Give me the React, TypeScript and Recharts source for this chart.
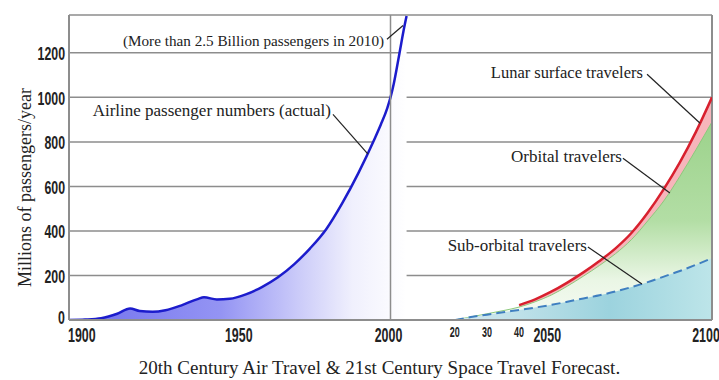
import { Area, CartesianGrid, ComposedChart, Line, ReferenceDot, ReferenceLine, XAxis, YAxis } from "recharts";

// Airline passengers, millions per year (actual)
const airlineYears = [1900, 1905, 1910, 1915, 1919, 1922, 1926, 1930, 1935, 1940, 1942, 1946, 1950, 1955, 1960, 1965, 1970, 1975, 1980, 1985, 1990, 1995, 1997, 1999, 2000, 2001, 2002, 2003, 2004, 2005];
const airlineValues = [0, 2, 8, 28, 52, 40, 37, 44, 66, 94, 102, 92, 95, 115, 148, 192, 250, 322, 408, 525, 660, 812, 878, 952, 1000, 1060, 1135, 1215, 1295, 1365];

// Space travel forecast
const spaceYears = [2020, 2025, 2030, 2035, 2040, 2045, 2050, 2055, 2060, 2065, 2070, 2075, 2080, 2085, 2090, 2095, 2100];
const lunarYears = [2040, 2045, 2050, 2055, 2060, 2065, 2070, 2075, 2080, 2085, 2090, 2095, 2100];
const lunarValues = [67, 93, 127, 168, 214, 265, 322, 392, 482, 588, 708, 845, 1000];
const orbitalValues = [0, 14, 28, 42, 58, 82, 112, 152, 197, 245, 298, 362, 445, 535, 645, 765, 890];
const suborbitalValues = [0, 13, 24, 35, 45, 56, 68, 82, 97, 111, 128, 148, 170, 195, 220, 248, 278];

const yTicks = [0, 200, 400, 600, 800, 1000, 1200];
const xTicks = [1900, 1950, 2000, 2020, 2030, 2040, 2050, 2100];

const notes = [
  { text: "(More than 2.5 Billion passengers in 2010)", year: 1998.0, value: 1256, size: 15.2 },
  { text: "Airline passenger numbers (actual)", year: 1981.5, value: 942, size: 17 },
  { text: "Lunar surface travelers", year: 2078.5, value: 1113, size: 16.5 },
  { text: "Orbital travelers", year: 2072.0, value: 736, size: 17 },
  { text: "Sub-orbital travelers", year: 2061.1, value: 336, size: 17 },
];

const leaders = [
  { from: [1998.9, 1261], to: [2003.9, 1323] },
  { from: [1982.1, 924], to: [1993.0, 745] },
  { from: [2079.8, 1104], to: [2096.3, 884] },
  { from: [2072.3, 727], to: [2086.9, 570] },
  { from: [2061.4, 328], to: [2078.2, 162] },
];

type Row = { year: number; airline?: number; lunar?: number; orbital?: number; suborbital?: number };

function buildRows(): Row[] {
  const rows = new Map<number, Row>();
  const put = (years: number[], values: number[], key: keyof Row) => {
    years.forEach((year, i) => {
      const row = rows.get(year) ?? { year };
      (row as any)[key] = values[i];
      rows.set(year, row);
    });
  };
  put(airlineYears, airlineValues, "airline");
  put(lunarYears, lunarValues, "lunar");
  put(spaceYears, orbitalValues, "orbital");
  put(spaceYears, suborbitalValues, "suborbital");
  return [...rows.values()].sort((a, b) => a.year - b.year);
}

const data = buildRows();

const SERIF = '"Liberation Serif", "DejaVu Serif", serif';
const SANS = '"Liberation Sans", Arial, sans-serif';
const INK = "#222";
const GRID = "#8d8d8d";

// small nudges so the century labels sit like the printed original
const yearLabel: Record<number, { dx: number; anchor: "start" | "middle" | "end" }> = {
  1900: { dx: -1, anchor: "start" },
  1950: { dx: 9, anchor: "middle" },
  2000: { dx: -2, anchor: "middle" },
  2050: { dx: -4, anchor: "middle" },
  2100: { dx: -6, anchor: "middle" },
};

function YearTick({ x, y, payload }: any) {
  const year = payload.value as number;
  const big = yearLabel[year];
  if (big) {
    return (
      <g transform={`translate(${x + big.dx},${y + 22}) scale(0.62,1)`}>
        <text textAnchor={big.anchor} fontFamily={SANS} fontWeight="bold" fontSize={20} fill={INK}>
          {year}
        </text>
      </g>
    );
  }
  return (
    <g transform={`translate(${x},${y + 17}) scale(0.64,1)`}>
      <text textAnchor="middle" fontFamily={SANS} fontWeight="bold" fontSize={14} fill={INK}>
        {year - 2000}
      </text>
    </g>
  );
}

function ValueTick({ x, y, payload }: any) {
  const dy = payload.value === 0 ? 3.5 : 7.5;
  return (
    <g transform={`translate(${x},${y + dy}) scale(0.65,1)`}>
      <text textAnchor="end" fontFamily={SANS} fontWeight="bold" fontSize={19} fill={INK}>
        {payload.value}
      </text>
    </g>
  );
}

function Note({ viewBox, text, size }: any) {
  return (
    <text x={viewBox.x} y={viewBox.y} textAnchor="end" dominantBaseline="central" fontFamily={SERIF} fontSize={size} fill={INK}>
      {text}
    </text>
  );
}

function AxisTitle({ viewBox }: any) {
  const cx = viewBox.x + 25;
  const cy = viewBox.y + viewBox.height / 2 + 20;
  return (
    <text x={cx} y={cy} transform={`rotate(-90, ${cx}, ${cy})`} textAnchor="middle" dominantBaseline="central" fontFamily={SERIF} fontSize={18} fill={INK}>
      Millions of passengers/year
    </text>
  );
}

export default function App() {
  return (
    <div style={{ position: "relative", width: 719, height: 380, background: "#fff" }}>
      <style>{"body{margin:0}"}</style>
      <ComposedChart width={719} height={360} data={data} margin={{ top: 15, right: 7, bottom: 0, left: 0 }}>
        <defs>
          <linearGradient id="airlineFill" x1="0" y1="0" x2="1" y2="0">
            <stop offset="0%" stopColor="#7070ee" />
            <stop offset="45%" stopColor="#9494f3" />
            <stop offset="68%" stopColor="#cbcbf9" />
            <stop offset="84%" stopColor="#f0f0fd" />
            <stop offset="100%" stopColor="#ffffff" />
          </linearGradient>
          <linearGradient id="orbitalFill" x1="0" y1="0" x2="0" y2="1">
            <stop offset="0%" stopColor="#9cd28b" />
            <stop offset="50%" stopColor="#b3dea5" />
            <stop offset="80%" stopColor="#eaf6e5" />
            <stop offset="100%" stopColor="#f6fbf3" />
          </linearGradient>
          <linearGradient id="subFill" x1="0" y1="0" x2="1" y2="0">
            <stop offset="0%" stopColor="#d6eaf0" />
            <stop offset="60%" stopColor="#9cd3de" />
            <stop offset="100%" stopColor="#bde5e9" />
          </linearGradient>
        </defs>
        <CartesianGrid vertical={false} stroke={GRID} strokeWidth={1.5} />
        <XAxis
          dataKey="year"
          type="number"
          domain={[1900, 2100]}
          ticks={xTicks}
          interval={0}
          allowDataOverflow
          height={40}
          tickSize={0}
          tickMargin={0}
          tickLine={false}
          axisLine={{ stroke: GRID, strokeWidth: 2 }}
          tick={<YearTick />}
        />
        <YAxis
          type="number"
          domain={[0, 1370]}
          ticks={yTicks}
          interval={0}
          allowDataOverflow
          width={69}
          tickSize={0}
          tickMargin={4}
          tickLine={false}
          axisLine={{ stroke: GRID, strokeWidth: 2 }}
          tick={<ValueTick />}
          label={<AxisTitle />}
        />
        <ReferenceLine x={2000} stroke={GRID} strokeWidth={1.5} />
        <ReferenceLine x={2100} stroke={GRID} strokeWidth={2} />

        <Area type="monotone" dataKey="airline" stroke="#1c1ccc" strokeWidth={2.5} fill="url(#airlineFill)" fillOpacity={1} isAnimationActive={false} />
        <Area type="monotone" dataKey="lunar" stroke="none" fill="#f7b5bb" fillOpacity={1} isAnimationActive={false} />
        <Area type="monotone" dataKey="orbital" stroke="#8cc97c" strokeWidth={1} fill="url(#orbitalFill)" fillOpacity={1} isAnimationActive={false} />
        <Area type="monotone" dataKey="suborbital" stroke="#3f7fc0" strokeWidth={2} strokeDasharray="9 5" fill="url(#subFill)" fillOpacity={1} isAnimationActive={false} />
        <Line type="monotone" dataKey="lunar" stroke="#d8202e" strokeWidth={2.5} dot={false} isAnimationActive={false} />

        {leaders.map((l, i) => (
          <ReferenceLine
            key={`leader-${i}`}
            segment={[
              { x: l.from[0], y: l.from[1] },
              { x: l.to[0], y: l.to[1] },
            ]}
            stroke={INK}
            strokeWidth={1.2}
            ifOverflow="visible"
          />
        ))}
        {notes.map((n) => (
          <ReferenceDot
            key={n.text}
            x={n.year}
            y={n.value}
            r={0}
            fill="none"
            stroke="none"
            ifOverflow="visible"
            label={<Note text={n.text} size={n.size} />}
          />
        ))}
      </ComposedChart>
      <div
        style={{
          position: "absolute",
          left: 20,
          top: 356,
          width: 719,
          textAlign: "center",
          fontFamily: SERIF,
          fontSize: 19,
          color: INK,
          lineHeight: "24px",
        }}
      >
        20th Century Air Travel &amp; 21st Century Space Travel Forecast.
      </div>
    </div>
  );
}
